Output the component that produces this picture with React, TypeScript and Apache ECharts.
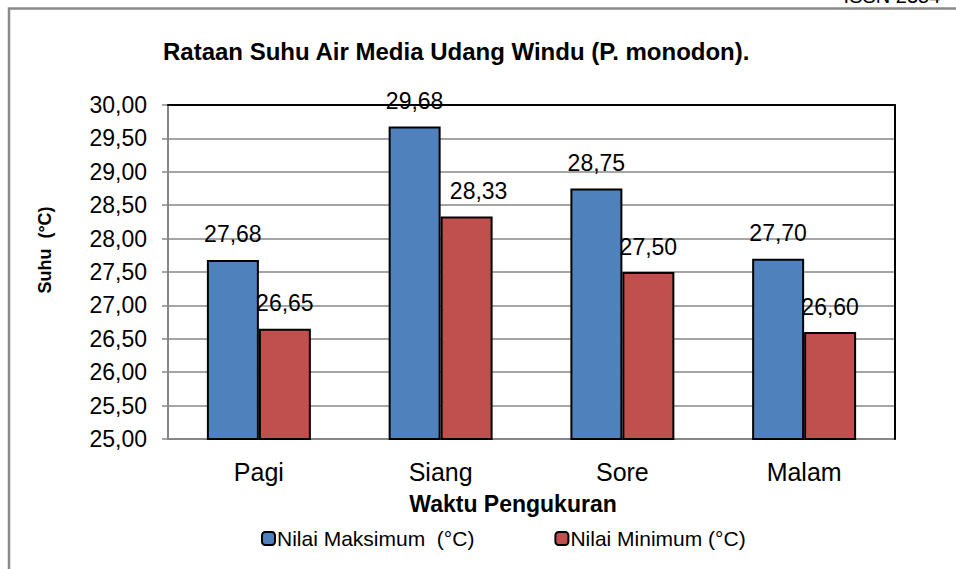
import React, { useEffect, useRef } from "react";
import * as echarts from "echarts";

const categories = ["Pagi", "Siang", "Sore", "Malam"];
const maxValues = [27.68, 29.68, 28.75, 27.7];
const minValues = [26.65, 28.33, 27.5, 26.6];
const seriesNames = ["Nilai Maksimum  (°C)", "Nilai Minimum (°C)"];
const yMin = 25;
const yMax = 30;
const yInterval = 0.5;

const FONT = "'Liberation Sans', Arial, sans-serif";
const fmt = (v: number) => v.toFixed(2).replace(".", ",");

export default function App() {
  const ref = useRef<HTMLDivElement>(null);
  useEffect(() => {
    if (!ref.current) return;
    const chart = echarts.init(ref.current, null, { renderer: "svg" });
    const grey = "#878787";
    const labelCfg = {
      show: true,
      position: "top",
      distance: 14,
      color: "#000",
      fontFamily: FONT,
      fontSize: 23,
      formatter: (p: any) => fmt(p.value),
    };
    chart.setOption({
      animation: false,
      backgroundColor: "#fff",
      textStyle: { fontFamily: FONT },
      grid: { left: 168, right: 61, top: 105, bottom: 130, containLabel: false },
      graphic: [
        {
          type: "rect",
          shape: { x: 9, y: 8.5, width: 1100, height: 800 },
          style: { fill: "none", stroke: "#8a8a8a", lineWidth: 2.5 },
          silent: true,
        },
        {
          type: "text",
          x: 947,
          y: -4,
          style: {
            text: "ISSN 2354-",
            fontFamily: FONT,
            fontSize: 20,
            fill: "#000",
            align: "right",
            verticalAlign: "middle",
          },
        },
        {
          type: "text",
          x: 163,
          y: 51,
          style: {
            text: "Rataan Suhu Air Media Udang Windu (P. monodon).",
            fontFamily: FONT,
            fontSize: 24,
            fontWeight: "bold",
            fill: "#000",
            align: "left",
            verticalAlign: "middle",
          },
        },
        {
          type: "text",
          x: 513,
          y: 504,
          style: {
            text: "Waktu Pengukuran",
            fontFamily: FONT,
            fontSize: 23,
            fontWeight: "bold",
            fill: "#000",
            align: "center",
            verticalAlign: "middle",
          },
        },
        {
          type: "text",
          x: 45,
          y: 250,
          rotation: Math.PI / 2,
          style: {
            text: "Suhu  (°C)",
            fontFamily: FONT,
            fontSize: 18,
            fontWeight: "bold",
            fill: "#000",
            align: "center",
            verticalAlign: "middle",
          },
        },
      ],
      legend: {
        left: 256,
        top: 523,
        itemWidth: 13,
        itemHeight: 13,
        itemGap: 80,
        textStyle: { fontFamily: FONT, fontSize: 21, color: "#000", padding: [0, 0, 0, -3] },
        data: seriesNames,
      },
      xAxis: [
        {
          type: "category",
          data: categories,
          axisLine: { show: true, lineStyle: { color: grey, width: 2 } },
          axisTick: { show: false },
          axisLabel: { fontFamily: FONT, fontSize: 25, color: "#000", margin: 20 },
          splitLine: { show: false },
        },
        {
          type: "category",
          data: categories,
          position: "top",
          z: 5,
          axisLine: { show: true, lineStyle: { color: "#000", width: 2 } },
          axisTick: { show: false },
          axisLabel: { show: false },
          splitLine: { show: false },
        },
      ],
      yAxis: [
        {
          type: "value",
          min: yMin,
          max: yMax,
          interval: yInterval,
          axisLine: { show: true, lineStyle: { color: grey, width: 2 } },
          axisTick: { show: true, inside: false, length: 6, lineStyle: { color: grey, width: 1.5 } },
          axisLabel: {
            fontFamily: FONT,
            fontSize: 23,
            color: "#000",
            margin: 21,
            formatter: (v: number) => fmt(v),
          },
          splitLine: { show: true, lineStyle: { color: grey, width: 1.5 } },
        },
        {
          type: "value",
          min: yMin,
          max: yMax,
          interval: yInterval,
          position: "right",
          z: 5,
          axisLine: { show: true, lineStyle: { color: "#000", width: 2 } },
          axisTick: { show: false },
          axisLabel: { show: false },
          splitLine: { show: false },
        },
      ],
      series: [
        {
          name: seriesNames[0],
          type: "bar",
          barWidth: "28.6%",
          barGap: "0%",
          itemStyle: { color: "#4F81BD", borderColor: "#000", borderWidth: 2 },
          label: labelCfg,
          data: maxValues,
        },
        {
          name: seriesNames[1],
          type: "bar",
          barWidth: "28.6%",
          barGap: "0%",
          itemStyle: { color: "#C0504D", borderColor: "#000", borderWidth: 2 },
          label: labelCfg,
          data: minValues.map((v, i) =>
            i === 1 ? { value: v, label: { offset: [12, 0] } } : v
          ),
        },
      ],
    });
    return () => chart.dispose();
  }, []);
  return (
    <div
      ref={ref}
      style={{ position: "fixed", left: 0, top: 0, width: 956, height: 569 }}
    />
  );
}
